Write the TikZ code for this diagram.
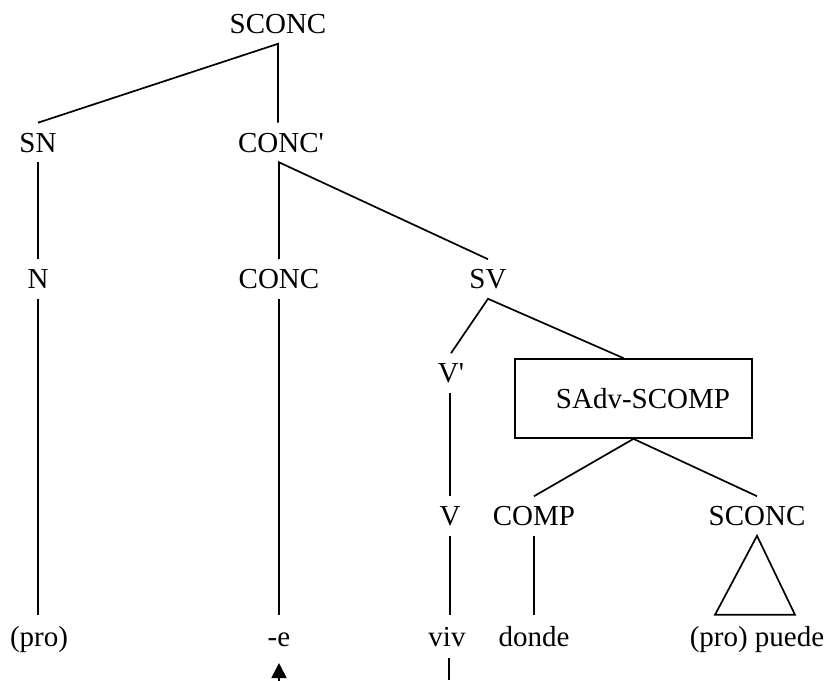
\documentclass[tikz,border=0pt]{standalone}
\usepackage{fontspec}
\setmainfont{Liberation Serif}
\usetikzlibrary{arrows.meta}
\begin{document}
\begin{tikzpicture}[x=1pt,y=-1pt,
  lbl/.style={font=\fontsize{29}{34}\selectfont, text height=19.2pt, text depth=0pt, inner xsep=0pt, inner ysep=10pt},
  leaf/.style={lbl, inner ysep=12pt},
  edge/.style={line width=1.7pt},
  boxnode/.style={draw, line width=1.7pt, font=\fontsize{29}{34}\selectfont, minimum width=237pt, minimum height=79pt, inner sep=0pt},
  uparrow/.style={line width=1.7pt, arrows={-Triangle[length=15pt,width=15pt]}}
]
\useasboundingbox (0,0) rectangle (827,680);
% nodes
\node[lbl] (top) at (278,24) {SCONC};
\node[lbl] (sn) at (38,142.5) {SN};
\node[lbl] (cp) at (281,142.5) {CONC\textquotesingle};
\node[lbl] (n) at (38,279) {N};
\node[lbl] (conc) at (279,279) {CONC};
\node[lbl] (sv) at (488,279) {SV};
\node[lbl] (vp) at (451,373) {V\textquotesingle};
\node[boxnode] (box) at (633.5,398.5) {\hspace*{19pt}SAdv-SCOMP};
\node[lbl] (v) at (450,516) {V};
\node[lbl] (comp) at (534,516) {COMP};
\node[lbl] (sc2) at (757,516) {SCONC};
\node[leaf] (pro) at (39,636.6) {(pro)};
\node[leaf] (e) at (279,636.6) {-e};
\node[leaf] (viv) at (447,636.6) {viv};
\node[leaf] (donde) at (534,636.6) {donde};
\node[leaf] (pp) at (757,636.6) {(pro) puede};
\coordinate (eb) at (279,682);
\coordinate (et) at (279,663);
\coordinate (vb) at (449,680);
% edges
\draw[edge] (sn.north) -- (top.south) -- (top.south |- cp.north);
\draw[edge] (sn.south) -- (n.north);
\draw[edge] (n.south) -- (n.south |- pro.north);
\draw[edge] (sv.north) -- (cp.south -| conc.north) -- (conc.north);
\draw[edge] (conc.south) -- (e.north);
\draw[edge] (vp.north) -- (sv.south) -- ([xshift=-10pt]box.north);
\draw[edge] (vp.south -| v.north) -- (v.north);
\draw[edge] (v.south) -- (v.south |- viv.north);
\draw[edge] (comp.north) -- (box.south) -- (sc2.north);
\draw[edge] (comp.south) -- (donde.north);
\draw[edge, line join=miter] (sc2.south) -- ([xshift=-42pt]pp.north) -- ([xshift=38pt]pp.north) -- cycle;
\draw[uparrow] (eb) -- (et);
\draw[edge] (vb |- viv.south) -- (vb);
\end{tikzpicture}
\end{document}
